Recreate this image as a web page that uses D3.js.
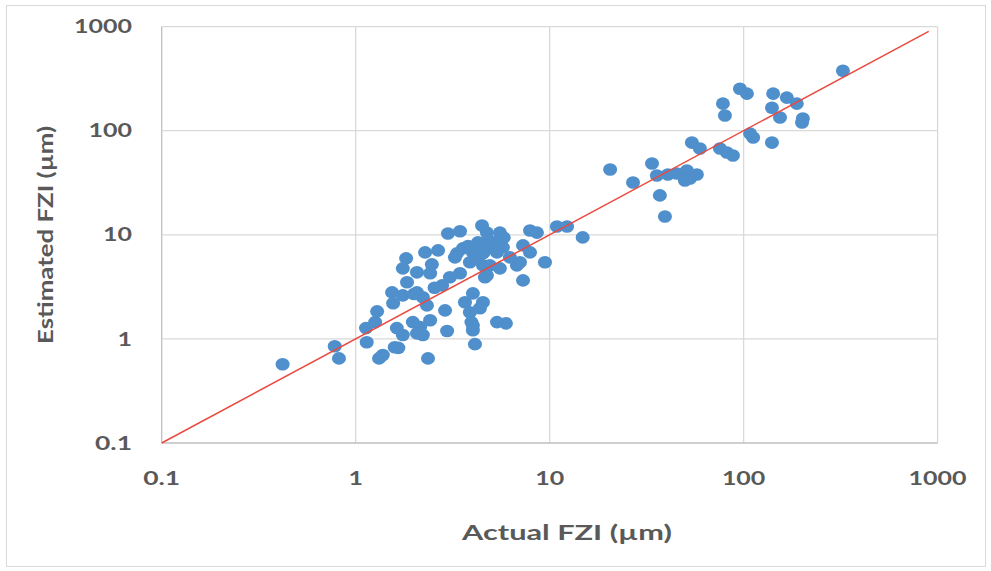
<!DOCTYPE html>
<meta charset="utf-8">
<script src="https://d3js.org/d3.v7.min.js"></script>
<style>
body{margin:0;background:#fff;}
text{font-family:Lato,"Open Sans",sans-serif;font-weight:bold;fill:#595959;}
</style>
<body>
<div id="chart"></div>
<script>
// actual vs estimated FZI (µm)
var actualFZI = [0.42,0.78,0.82,1.13,1.14,1.29,1.26,1.32,1.38,1.59,1.54,1.75,1.56,1.84,1.75,1.82,2.07,2.28,2.66,2.47,
	2.42,2.07,2.22,2.79,3.06,3.45,3.33,3.57,4.02,4.37,3.88,4.53,4.02,3.66,2.33,2.89,3.88,4.37,1.97,2.15,
	2.42,1.63,1.75,2.07,2.22,2.96,2.36,4.12,3.95,4.02,2.99,3.45,4.48,4.75,5.54,4.27,4.92,5.74,4.53,5.35,
	3.25,4.22,6.24,4.92,5.54,6.78,7.29,4.64,7.29,4.53,7.92,8.60,7.92,7.03,9.46,4.75,10.9,12.3,14.8,5.35,
	5.95,4.02,4.80,5.20,4.60,3.80,5.80,2.00,1.66,2.55,
	20.5,33.7,26.9,37.0,39.3,35.7,40.7,45.3,51.0,52.9,57.4,49.8,54.1,59.5,325,95.7,104,78.2,80.1,142,
	167,188,140,154,202,200,108,112,140,75.5,82.0,88.1];
var estimatedFZI = [0.57,0.85,0.65,1.27,0.93,1.84,1.45,0.65,0.70,0.83,2.80,2.62,2.20,3.50,4.76,5.94,4.36,6.78,7.09,5.20,
	4.27,2.80,2.51,3.27,3.91,4.27,6.63,7.41,6.78,7.57,5.44,5.09,2.74,2.25,2.10,1.88,1.80,1.97,1.45,1.30,
	1.51,1.27,1.09,1.13,1.09,1.19,0.65,0.89,1.45,1.21,10.3,10.8,12.3,10.5,10.5,8.46,7.91,7.57,6.63,6.78,
	6.07,5.94,6.07,5.09,4.76,5.09,7.91,3.91,3.65,2.25,11.0,10.5,6.78,5.44,5.44,4.08,12.0,12.0,9.44,1.45,
	1.41,1.35,9.00,8.50,6.90,7.80,9.40,2.70,0.82,3.10,
	42.4,48.4,31.8,23.9,15.0,37.1,37.9,38.8,41.4,34.7,37.9,33.2,76.9,67.4,377,253,227,182,140,227,
	208,182,166,134,131,120,93.8,85.9,76.9,67.4,61.7,57.7];
var tickValues = [0.1,1,10,100,1000];
var fitLine = [0.1,900]; // 1:1 line

var W = 991, H = 571;
var svg = d3.select('#chart').append('svg').attr('width',W).attr('height',H);

// outer chart border
svg.append('rect').attr('x',6.5).attr('y',5.5).attr('width',979).attr('height',561)
	.attr('fill','none').attr('stroke','#d9d9d9');

var x = d3.scaleLog().domain([0.1,1000]).range([161.7,937.6]);
var y = d3.scaleLog().domain([0.1,1000]).range([443,26.6]);

// rough width of a label, glyphs are stretched wide in the picture
function labelLen(s){
	var n = 0;
	for(var i=0;i<s.length;i++){ n += s[i]=='.' ? 8 : 14.5; }
	return n;
}

// grid
svg.append('g').selectAll('line').data(tickValues).join('line')
	.attr('x1',d=>x(d)).attr('x2',d=>x(d)).attr('y1',y(1000)).attr('y2',y(0.1))
	.attr('stroke',(d,i)=>i==0?'#bfbfbf':'#d9d9d9').attr('stroke-width',1.3);
svg.append('g').selectAll('line').data(tickValues).join('line')
	.attr('y1',d=>y(d)).attr('y2',d=>y(d)).attr('x1',x(0.1)).attr('x2',x(1000))
	.attr('stroke',(d,i)=>i==0?'#bfbfbf':'#d9d9d9').attr('stroke-width',1.3);

// tick labels
svg.append('g').selectAll('text').data(tickValues).join('text')
	.attr('x',132).attr('y',d=>y(d)).attr('dy','0.35em').attr('text-anchor','end')
	.attr('font-size',19).text(d=>String(d))
	.attr('textLength',d=>labelLen(String(d))).attr('lengthAdjust','spacingAndGlyphs');
svg.append('g').selectAll('text').data(tickValues).join('text')
	.attr('x',d=>x(d)).attr('y',478).attr('dy','0.35em').attr('text-anchor','middle')
	.attr('font-size',19).text(d=>String(d))
	.attr('textLength',d=>labelLen(String(d))).attr('lengthAdjust','spacingAndGlyphs');

// axis titles
svg.append('text').attr('x',567).attr('y',533).attr('dy','0.35em').attr('text-anchor','middle')
	.attr('font-size',21).attr('textLength',210).attr('lengthAdjust','spacingAndGlyphs')
	.text('Actual FZI (µm)');
svg.append('text').attr('transform','translate(46,235) rotate(-90)').attr('dy','0.35em')
	.attr('text-anchor','middle').attr('font-size',21).attr('textLength',218)
	.attr('lengthAdjust','spacingAndGlyphs').text('Estimated FZI (µm)');

// points
var pts = actualFZI.map((d,i)=>({a:d,e:estimatedFZI[i]}));
svg.append('g').selectAll('ellipse').data(pts).join('ellipse')
	.attr('cx',d=>x(d.a)).attr('cy',d=>y(d.e)).attr('rx',7).attr('ry',6.3)
	.attr('fill','#4f8fcc');

// 1:1 line
svg.append('line').attr('x1',x(fitLine[0])).attr('y1',y(fitLine[0]))
	.attr('x2',x(fitLine[1])).attr('y2',y(fitLine[1]))
	.attr('stroke','#ea4a3f').attr('stroke-width',1.5);
</script>
</body>
